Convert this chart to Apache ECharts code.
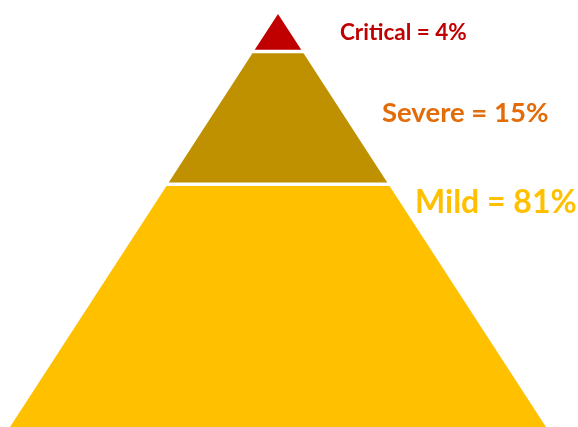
<!DOCTYPE html>
<html>
<head>
<meta charset="utf-8">
<script src="https://cdn.jsdelivr.net/npm/echarts@6/dist/echarts.min.js"></script>
<style>html,body{margin:0;padding:0;background:#fff}#c{width:578px;height:427px}</style>
</head>
<body>
<div id="c"></div>
<script>
// Pyramid levels (bottom to top)
var levels = ['Mild', 'Severe', 'Critical'];
var percents = [81, 15, 4];
// band boundaries as % of pyramid height (0 = base, 100 = apex)
var bandBottom = [0, 58.8, 90.9];
var bandTop = [58.8, 90.9, 100];
var colors = ['#FFC000', '#BF9000', '#C00000'];
var labelColors = ['#FFC000', '#E36C09', '#C00000'];

var chart = echarts.init(document.getElementById('c'));
var data = levels.map(function (n, i) { return [bandBottom[i], bandTop[i], i]; });
var gap = 1.75;

chart.setOption({
  animation: false,
  grid: { left: 10, right: 32, top: 14, bottom: 0 },
  xAxis: { type: 'value', min: -1, max: 1, show: false },
  yAxis: { type: 'value', min: 0, max: 100, show: false },
  series: [{
    type: 'custom',
    data: data,
    renderItem: function (params, api) {
      var b = api.value(0), t = api.value(1), i = api.value(2);
      var bl = api.coord([-(1 - b / 100), b]);
      var br = api.coord([(1 - b / 100), b]);
      var tl = api.coord([-(1 - t / 100), t]);
      var tr = api.coord([(1 - t / 100), t]);
      var gb = b > 0 ? gap : 0;
      var gt = t < 100 ? gap : 0;
      function along(p, q, d) {
        var dy = q[1] - p[1];
        var f = Math.abs(dy) > 0 ? d / Math.abs(dy) : 0;
        return [p[0] + (q[0] - p[0]) * f, p[1] + (q[1] - p[1]) * f];
      }
      var pts = [
        along(bl, tl, gb), along(br, tr, gb),
        along(tr, br, gt), along(tl, bl, gt)
      ];
      return {
        type: 'polygon',
        shape: { points: pts },
        style: { fill: colors[i] }
      };
    }
  }],
  graphic: [
    { type: 'text', x: 340, y: 33, style: { text: levels[2] + ' = ' + percents[2] + '%', fill: labelColors[2], font: 'bold 22.5px Lato', verticalAlign: 'middle' } },
    { type: 'text', x: 382, y: 113, style: { text: levels[1] + ' = ' + percents[1] + '%', fill: labelColors[1], font: 'bold 27.5px Lato', verticalAlign: 'middle' } },
    { type: 'text', x: 415, y: 203, style: { text: levels[0] + ' = ' + percents[0] + '%', fill: labelColors[0], font: 'bold 32px Lato', verticalAlign: 'middle' } }
  ]
});
</script>
</body>
</html>
